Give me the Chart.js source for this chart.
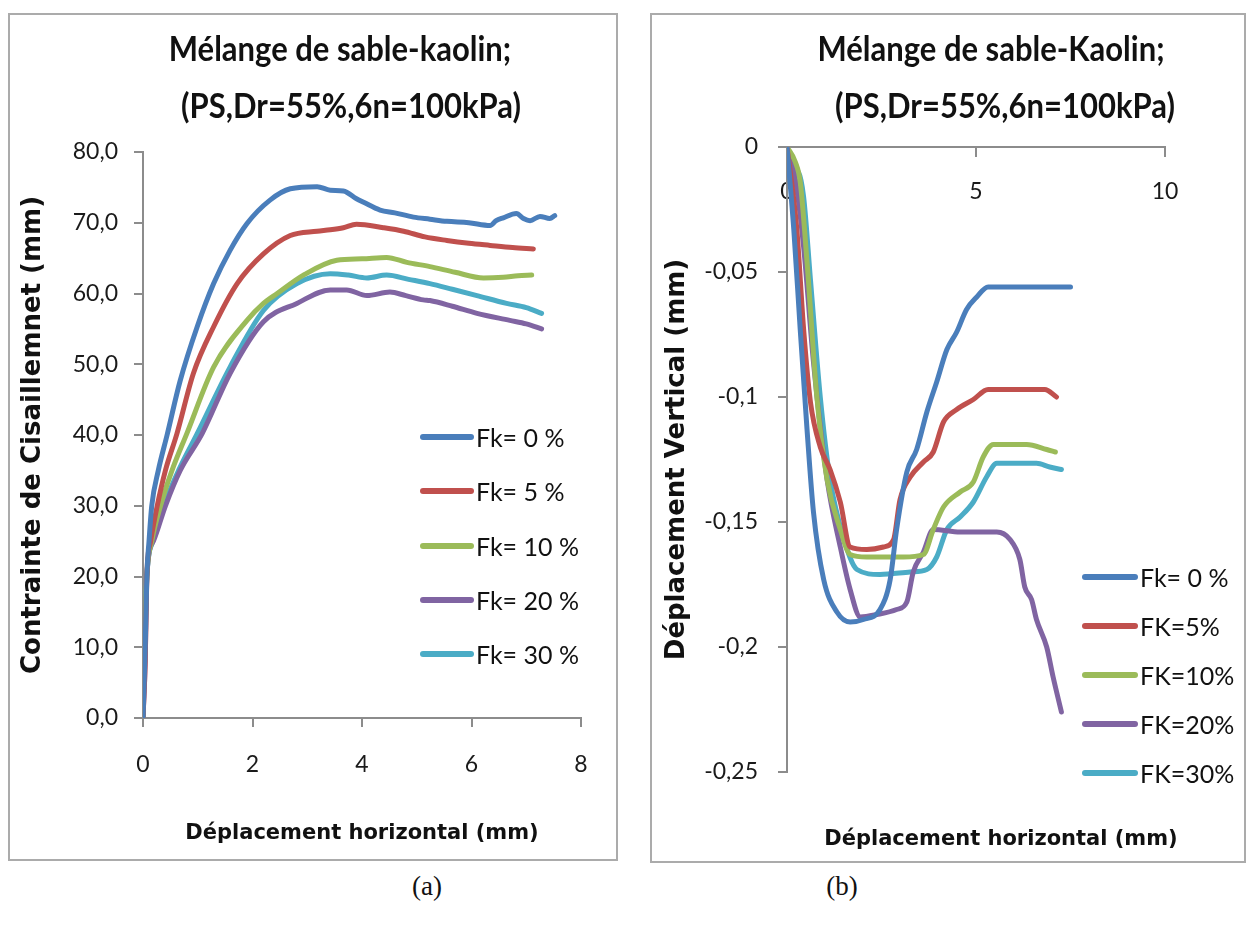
<!DOCTYPE html>
<html>
<head>
<meta charset="utf-8">
<script src="https://cdn.jsdelivr.net/npm/chart.js@4.4.1/dist/chart.umd.min.js"></script>
<style>
  html, body { margin: 0; padding: 0; background: #fff; }
  body { width: 1249px; height: 931px; position: relative; overflow: hidden; font-family: Lato, 'Liberation Sans', sans-serif; color: #111; }
  .box { position: absolute; border: 2px solid #ababab; box-sizing: border-box; }
  .box canvas { position: absolute; left: 0; top: 0; }
  .ttl { position: absolute; font-weight: bold; font-size: 31px; white-space: nowrap; transform: translate(-50%, -50%) scaleY(1.12); line-height: 1; }
  .xt { position: absolute; font-family: 'DejaVu Sans', sans-serif; font-weight: bold; font-size: 21px; white-space: nowrap; transform: translate(-50%, -50%); }
  .leg .row { position: absolute; display: flex; align-items: center; white-space: nowrap; font-size: 25px; transform: translateY(-50%); }
  .leg .sw { display: inline-block; height: 6px; border-radius: 3px; margin-right: 2px; }
  .cap { position: absolute; font-family: 'Liberation Serif', 'DejaVu Serif', serif; font-size: 27px; transform: translate(-50%, -50%); }
</style>
</head>
<body>

<div class="box" style="left:8px;top:13px;width:610px;height:848px;"><canvas id="chartA" width="606" height="844"></canvas></div>
<div class="box" style="left:650px;top:13px;width:596px;height:850px;"><canvas id="chartB" width="592" height="846"></canvas></div>

<div class="ttl" style="left:340px;top:48px;">Mélange de sable-kaolin;</div>
<div class="ttl" style="left:351px;top:105px;">(PS,Dr=55%,6n=100kPa)</div>
<div class="ttl" style="left:991px;top:48px;">Mélange de sable-Kaolin;</div>
<div class="ttl" style="left:1005px;top:105px;">(PS,Dr=55%,6n=100kPa)</div>
<div class="xt" style="left:1001px;top:838px;">Déplacement horizontal (mm)</div>

<div class="leg" id="legA"></div>
<div class="leg" id="legB"></div>

<div class="cap" style="left:427px;top:886px;">(a)</div>
<div class="cap" style="left:842px;top:886px;">(b)</div>

<script>
// ---- panel (a): shear stress vs horizontal displacement ----
const namesA = ['Fk= 0 %', 'Fk= 5 %', 'Fk= 10 %', 'Fk= 20 %', 'Fk= 30 %'];
const xTicksA = [0, 2, 4, 6, 8];
const yTicksA = [0, 10, 20, 30, 40, 50, 60, 70, 80];

const a0x = [0, 0.04, 0.07, 0.11, 0.16, 0.28, 0.44, 0.68, 0.99, 1.29, 1.59, 1.90, 2.32, 2.69, 3.18, 3.42, 3.66, 3.90, 4.03, 4.33, 4.60, 4.94, 5.24, 5.55, 5.95, 6.34, 6.45, 6.58, 6.82, 6.95, 7.07, 7.25, 7.43, 7.52];
const a0y = [0, 10, 20, 25, 30, 35, 40, 47.7, 55.3, 61.4, 66.1, 69.9, 73.2, 74.8, 75.1, 74.6, 74.5, 73.4, 72.9, 71.8, 71.4, 70.8, 70.5, 70.2, 70.0, 69.6, 70.3, 70.7, 71.3, 70.6, 70.3, 70.9, 70.6, 71.0];
const a5x = [0, 0.04, 0.07, 0.14, 0.26, 0.41, 0.62, 0.92, 1.29, 1.72, 2.20, 2.69, 3.18, 3.42, 3.66, 3.90, 4.39, 4.76, 5.15, 5.55, 5.95, 6.34, 6.75, 7.13];
const a5y = [0, 8, 20, 25, 30, 35, 40.2, 48.7, 55.3, 61.4, 65.6, 68.2, 68.8, 69.0, 69.3, 69.8, 69.3, 68.8, 68.0, 67.5, 67.1, 66.8, 66.5, 66.3];
const a10x = [0, 0.03, 0.07, 0.16, 0.32, 0.53, 0.80, 1.29, 1.90, 2.20, 2.45, 2.93, 3.54, 4.00, 4.45, 4.82, 5.24, 5.70, 6.22, 6.58, 6.85, 7.10];
const a10y = [0, 10, 20, 25, 30, 35, 40.2, 49.6, 56.2, 58.6, 60.0, 62.6, 64.7, 64.9, 65.1, 64.4, 63.8, 63.0, 62.2, 62.3, 62.5, 62.6];
const a20x = [0, 0.04, 0.07, 0.19, 0.41, 0.68, 1.08, 1.59, 2.20, 2.81, 3.42, 3.72, 4.09, 4.51, 4.80, 5.12, 5.24, 5.65, 6.10, 6.70, 7.00, 7.28];
const a20y = [0, 8, 20, 25, 30, 35, 40.2, 48.7, 56.0, 58.6, 60.5, 60.5, 59.7, 60.2, 59.7, 59.1, 59.0, 58.2, 57.2, 56.2, 55.7, 55.0];
const a30x = [0, 0.03, 0.07, 0.18, 0.38, 0.65, 0.99, 1.59, 2.20, 2.81, 3.42, 3.75, 4.09, 4.45, 4.85, 5.24, 5.65, 6.10, 6.64, 7.00, 7.28];
const a30y = [0, 10, 20, 25, 30, 35, 40.2, 49.6, 57.6, 61.4, 62.8, 62.6, 62.2, 62.6, 62.0, 61.4, 60.6, 59.7, 58.6, 58.0, 57.2];

// ---- panel (b): vertical vs horizontal displacement ----
const namesB = ['Fk= 0 %', 'FK=5%', 'FK=10%', 'FK=20%', 'FK=30%'];
const xTicksB = [0, 5, 10];
const yTicksB = [0, -0.05, -0.1, -0.15, -0.2, -0.25];

const b0x = [0, 0.18, 0.35, 0.53, 0.70, 0.97, 1.32, 1.67, 2.02, 2.46, 2.73, 2.90, 3.17, 3.43, 3.70, 3.96, 4.23, 4.49, 4.75, 5.02, 5.32, 7.5];
const b0y = [0, -0.033, -0.073, -0.113, -0.146, -0.173, -0.186, -0.190, -0.189, -0.185, -0.173, -0.153, -0.130, -0.121, -0.106, -0.094, -0.081, -0.074, -0.065, -0.060, -0.056, -0.056];
const b5x = [0, 0.26, 0.44, 0.62, 0.88, 1.14, 1.41, 1.67, 2.11, 2.55, 2.82, 2.99, 3.26, 3.61, 3.87, 4.14, 4.49, 4.93, 5.32, 6.82, 7.13];
const b5y = [0, -0.033, -0.073, -0.102, -0.120, -0.129, -0.142, -0.160, -0.161, -0.160, -0.157, -0.141, -0.132, -0.126, -0.122, -0.110, -0.105, -0.101, -0.097, -0.097, -0.100];
const b10x = [0, 0.22, 0.35, 0.53, 0.79, 1.06, 1.41, 1.67, 2.11, 3.08, 3.61, 3.87, 4.14, 4.58, 4.93, 5.19, 5.46, 6.34, 6.87, 7.10];
const b10y = [0, -0.006, -0.014, -0.046, -0.100, -0.133, -0.153, -0.163, -0.164, -0.164, -0.163, -0.153, -0.144, -0.138, -0.134, -0.124, -0.119, -0.119, -0.121, -0.122];
const b20x = [0, 0.18, 0.44, 0.70, 1.06, 1.41, 1.67, 1.94, 2.38, 2.90, 3.17, 3.34, 3.61, 3.87, 4.58, 5.55, 5.90, 6.16, 6.29, 6.47, 6.60, 6.87, 7.04, 7.26];
const b20y = [0, -0.009, -0.040, -0.086, -0.133, -0.160, -0.177, -0.188, -0.187, -0.185, -0.182, -0.170, -0.162, -0.153, -0.154, -0.154, -0.157, -0.165, -0.176, -0.181, -0.189, -0.200, -0.212, -0.226];
const b30x = [0, 0.1, 0.3, 0.44, 0.62, 0.88, 1.14, 1.49, 1.85, 2.46, 3.26, 3.70, 3.96, 4.23, 4.58, 4.93, 5.28, 5.55, 6.60, 6.95, 7.26];
const b30y = [-0.005, -0.008, -0.010, -0.020, -0.053, -0.100, -0.133, -0.156, -0.169, -0.171, -0.170, -0.169, -0.164, -0.153, -0.148, -0.142, -0.132, -0.1265, -0.1265, -0.128, -0.129];

const colors = ['#4a7ebb', '#c0504d', '#9bbb59', '#8064a2', '#4bacc6'];
const axisGrey = '#8c8c8c';
const tickFont = { family: 'Lato, "Liberation Sans", sans-serif', size: 23 };
const xTitleFont = { family: '"DejaVu Sans", sans-serif', size: 21, weight: 'bold' };
const yTitleFont = { family: '"DejaVu Sans", sans-serif', size: 26, weight: 'bold' };

function pts(xs, ys) {
  return xs.map((x, i) => ({ x: x, y: ys[i] }));
}

function makeSets(names, pairs) {
  return names.map((n, i) => ({
    label: n,
    data: pts(pairs[i][0], pairs[i][1]),
    borderColor: colors[i],
    backgroundColor: colors[i],
    borderWidth: 5,
    pointRadius: 0,
    fill: false,
    cubicInterpolationMode: 'monotone',
    borderCapStyle: 'round',
    borderJoinStyle: 'round'
  }));
}

function fixedTicks(list) {
  return scale => { scale.ticks = list.map(v => ({ value: v })); };
}

function axisBase() {
  return {
    type: 'linear',
    grid: { drawOnChartArea: false, drawTicks: true, tickLength: 9, color: axisGrey, lineWidth: 2 },
    border: { display: true, color: axisGrey, width: 2 },
    ticks: { color: '#1a1a1a', font: tickFont }
  };
}

function buildLegend(chart, el, left, top0, step, swW) {
  chart.data.datasets.forEach((ds, i) => {
    const row = document.createElement('div');
    row.className = 'row';
    row.style.left = left + 'px';
    row.style.top = (top0 + i * step) + 'px';
    const sw = document.createElement('span');
    sw.className = 'sw';
    sw.style.width = swW + 'px';
    sw.style.background = ds.borderColor;
    const tx = document.createElement('span');
    tx.textContent = ds.label;
    row.appendChild(sw);
    row.appendChild(tx);
    el.appendChild(row);
  });
}

// chart (a)
const xA = axisBase();
xA.min = 0; xA.max = 8;
xA.afterBuildTicks = fixedTicks(xTicksA);
xA.afterFit = s => { s.height = 133; };
xA.ticks.padding = 24;
xA.ticks.maxRotation = 0;
xA.title = { display: true, text: 'Déplacement horizontal (mm)', color: '#111', font: xTitleFont, padding: { top: 0, bottom: 5 } };

const yA = axisBase();
yA.min = 0; yA.max = 80;
yA.afterBuildTicks = fixedTicks(yTicksA);
yA.afterFit = s => { s.width = 125; };
yA.ticks.padding = 16;
yA.ticks.callback = v => v.toFixed(1).replace('.', ',');
yA.title = { display: true, text: 'Contrainte de Cisaillemnet (mm)', color: '#111', font: yTitleFont, padding: { top: 0, bottom: 0 } };

const chartA = new Chart(document.getElementById('chartA'), {
  type: 'line',
  data: { datasets: makeSets(namesA, [[a0x, a0y], [a5x, a5y], [a10x, a10y], [a20x, a20y], [a30x, a30y]]) },
  options: {
    responsive: false,
    animation: false,
    devicePixelRatio: 1,
    layout: { padding: { left: 8, top: 137, right: 35, bottom: 8 } },
    plugins: { legend: { display: false }, tooltip: { enabled: false } },
    scales: { x: xA, y: yA }
  }
});

// chart (b)
const xB = axisBase();
xB.min = 0; xB.max = 10;
xB.position = { y: 0 };
xB.afterBuildTicks = fixedTicks(xTicksB);
xB.ticks.padding = 22;
xB.ticks.maxRotation = 0;

const yB = axisBase();
yB.min = -0.25; yB.max = 0;
yB.position = 'left';
yB.afterBuildTicks = fixedTicks(yTicksB);
yB.afterFit = s => { s.width = 127; };
yB.ticks.padding = 20;
yB.ticks.callback = v => String(Math.round(v * 100) / 100).replace('.', ',');
yB.title = { display: true, text: 'Déplacement Vertical (mm)', color: '#111', font: yTitleFont, padding: { top: 2, bottom: 0 } };

const chartB = new Chart(document.getElementById('chartB'), {
  type: 'line',
  data: { datasets: makeSets(namesB, [[b0x, b0y], [b5x, b5y], [b10x, b10y], [b20x, b20y], [b30x, b30y]]) },
  options: {
    responsive: false,
    animation: false,
    devicePixelRatio: 1,
    layout: { padding: { left: 8, top: 132, right: 79, bottom: 89 } },
    plugins: { legend: { display: false }, tooltip: { enabled: false } },
    scales: { x: xB, y: yB }
  }
});

buildLegend(chartA, document.getElementById('legA'), 420, 437, 54.3, 54);
buildLegend(chartB, document.getElementById('legB'), 1082, 577, 49, 56);
</script>
</body>
</html>
